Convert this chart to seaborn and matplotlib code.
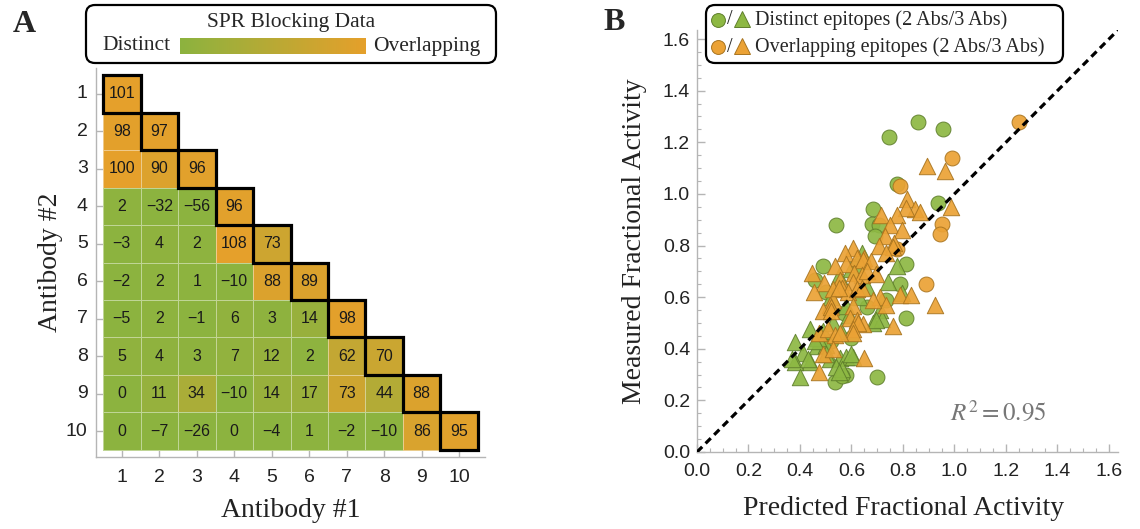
import numpy as np
import pandas as pd
import matplotlib
matplotlib.use("Agg")
import matplotlib.pyplot as plt
import seaborn as sns
from matplotlib.colors import LinearSegmentedColormap
from matplotlib.patches import Rectangle, FancyBboxPatch
from matplotlib.ticker import MultipleLocator

# ---------------- data ----------------
antibodies = list(range(1, 11))
blocking_rows = [
    [101],
    [98, 97],
    [100, 90, 96],
    [2, -32, -56, 96],
    [-3, 4, 2, 108, 73],
    [-2, 2, 1, -10, 88, 89],
    [-5, 2, -1, 6, 3, 14, 98],
    [5, 4, 3, 7, 12, 2, 62, 70],
    [0, 11, 34, -10, 14, 17, 73, 44, 88],
    [0, -7, -26, 0, -4, 1, -2, -10, 86, 95],
]

# distinct epitopes, 2 Abs (circles)
dist2_pred = [0.86, 0.955, 0.745, 0.775, 0.935, 0.685, 0.68, 0.705, 0.54, 0.69, 0.81, 0.49, 0.46,
              0.79, 0.735, 0.81, 0.70, 0.58, 0.535, 0.565, 0.62, 0.57, 0.52, 0.60, 0.66, 0.50]
dist2_meas = [1.28, 1.25, 1.22, 1.04, 0.965, 0.94, 0.885, 0.88, 0.88, 0.835, 0.73, 0.72, 0.665,
              0.65, 0.59, 0.52, 0.29, 0.30, 0.27, 0.295, 0.72, 0.54, 0.43, 0.44, 0.56, 0.62]
# distinct epitopes, 3 Abs (triangles)
dist3_pred = [0.775, 0.71, 0.58, 0.685, 0.72, 0.44, 0.38, 0.41, 0.44, 0.38, 0.40, 0.465, 0.50,
              0.515, 0.555, 0.58, 0.605, 0.54, 0.565, 0.55, 0.60, 0.37, 0.43, 0.795, 0.695, 0.47,
              0.49, 0.53, 0.56, 0.59, 0.63, 0.66, 0.52, 0.55, 0.60, 0.64, 0.74, 0.50, 0.46]
dist3_meas = [0.72, 0.55, 0.565, 0.50, 0.515, 0.475, 0.425, 0.385, 0.35, 0.35, 0.29, 0.41, 0.415,
              0.36, 0.365, 0.37, 0.37, 0.33, 0.32, 0.31, 0.38, 0.36, 0.36, 0.615, 0.51, 0.44,
              0.47, 0.50, 0.47, 0.53, 0.60, 0.64, 0.60, 0.68, 0.71, 0.77, 0.66, 0.38, 0.43]
# overlapping epitopes, 2 Abs (circles)
ovl2_pred = [1.25, 0.99, 0.79, 0.95, 0.945, 0.775, 0.89]
ovl2_meas = [1.28, 1.14, 1.03, 0.885, 0.845, 0.785, 0.65]
# overlapping epitopes, 3 Abs (triangles)
ovl3_pred = [0.895, 0.965, 0.815, 0.985, 0.845, 0.865, 0.81, 0.715, 0.775, 0.75, 0.795, 0.73,
             0.765, 0.705, 0.605, 0.575, 0.76, 0.735, 0.65, 0.62, 0.645, 0.675, 0.58, 0.535,
             0.445, 0.61, 0.64, 0.66, 0.695, 0.555, 0.605, 0.495, 0.79, 0.83, 0.925, 0.455,
             0.565, 0.585, 0.62, 0.64, 0.53, 0.71, 0.735, 0.685, 0.76, 0.53, 0.515, 0.49,
             0.605, 0.52, 0.595, 0.62, 0.645, 0.625, 0.605, 0.605, 0.475, 0.51, 0.535, 0.555,
             0.49, 0.53, 0.65, 0.475, 0.52, 0.55]
ovl3_meas = [1.11, 1.09, 0.98, 0.95, 0.94, 0.93, 0.945, 0.92, 0.92, 0.88, 0.86, 0.835,
             0.81, 0.80, 0.79, 0.77, 0.795, 0.77, 0.75, 0.75, 0.745, 0.74, 0.73, 0.72,
             0.695, 0.695, 0.685, 0.70, 0.69, 0.665, 0.66, 0.655, 0.61, 0.61, 0.57, 0.62,
             0.635, 0.62, 0.63, 0.635, 0.63, 0.60, 0.57, 0.59, 0.49, 0.59, 0.57, 0.545,
             0.565, 0.56, 0.52, 0.51, 0.495, 0.50, 0.475, 0.46, 0.46, 0.475, 0.455, 0.46,
             0.38, 0.40, 0.365, 0.31, 0.545, 0.635]
r_squared = 0.95

# ---------------- style ----------------
GREEN = "#8CB33F"
ORANGE = "#E5A02B"
SC_GREEN = "#8DB843"
SC_ORANGE = "#EBA235"
EDGE_GREEN = "#5F7F2C"
EDGE_ORANGE = "#A8741F"
AXIS_GREY = "#B5B5B5"

sns.set_theme(style="white")
plt.rcParams['font.family'] = ['Liberation Sans', 'DejaVu Sans']
plt.rcParams['mathtext.fontset'] = 'stix'
SERIF = ['Liberation Serif', 'DejaVu Serif']

W, H = 1140, 529
fig = plt.figure(figsize=(W / 100, H / 100), dpi=100)


def fr(x0, y0, x1, y1):
    return [x0 / W, 1 - y1 / H, (x1 - x0) / W, (y1 - y0) / H]


cmap = LinearSegmentedColormap.from_list("spr", [GREEN, ORANGE])

# ---------------- Panel A: heatmap ----------------
axA = fig.add_axes(fr(96, 68, 485, 457))
n = len(antibodies)
mat = np.full((n, n), np.nan)
for i, row in enumerate(blocking_rows):
    mat[i, :len(row)] = row
mask = np.isnan(mat)
annot = np.array([["" if np.isnan(v) else f"{int(v)}".replace("-", "\u2212") for v in r] for r in mat])
df = pd.DataFrame(mat, index=antibodies, columns=antibodies)
sns.heatmap(df, mask=mask, cmap=cmap, vmin=0, vmax=100, annot=annot, fmt="",
            annot_kws=dict(size=11.5, color="#1a1a1a"), linewidths=0.7,
            linecolor=(1, 1, 1, 0.45), cbar=False, ax=axA)
for i in range(n):
    axA.add_patch(Rectangle((i, i), 1, 1, fill=False, ec="black", lw=2.3, zorder=4,
                            clip_on=False))
pad = 0.187
axA.set_xlim(-pad, n + pad)
axA.set_ylim(n + pad, -pad)
for s in ["left", "bottom"]:
    axA.spines[s].set_visible(True)
    axA.spines[s].set_color(AXIS_GREY)
    axA.spines[s].set_linewidth(1.0)
for s in ["top", "right"]:
    axA.spines[s].set_visible(False)
axA.tick_params(direction="in", length=5, width=1, color=AXIS_GREY, left=True, bottom=True,
                labelsize=14, labelcolor="#222222")
axA.tick_params(axis="y", pad=6)
axA.tick_params(axis="x", pad=9)
plt.setp(axA.get_yticklabels(), rotation=0)
plt.setp(axA.get_xticklabels(), rotation=0)
axA.set_xlabel("Antibody #1", family=SERIF, size=20, color="#222222")
axA.set_ylabel("Antibody #2", family=SERIF, size=20, color="#222222")
axA.xaxis.set_label_coords(0.5, -0.105)
axA.yaxis.set_label_coords(-0.085, 0.5)

# ---------------- Panel B: scatter ----------------
axB = fig.add_axes(fr(697, 30, 1118, 452))
lim = 1.635
common = dict(linewidth=0.7, alpha=0.92, legend=False, ax=axB)
sns.scatterplot(x=dist2_pred, y=dist2_meas, marker="o", s=115, color=SC_GREEN, edgecolor=EDGE_GREEN, **common)
sns.scatterplot(x=ovl2_pred, y=ovl2_meas, marker="o", s=115, color=SC_ORANGE, edgecolor=EDGE_ORANGE, **common)
sns.scatterplot(x=dist3_pred, y=dist3_meas, marker="^", s=140, color=SC_GREEN, edgecolor=EDGE_GREEN, **common)
sns.scatterplot(x=ovl3_pred, y=ovl3_meas, marker="^", s=140, color=SC_ORANGE, edgecolor=EDGE_ORANGE, **common)
axB.plot([0, 1.7], [0, 1.7], color="black", lw=2.3, dashes=(2.3, 1.5), zorder=5)
axB.set_xlim(0, lim)
axB.set_ylim(0, lim)
axB.xaxis.set_major_locator(MultipleLocator(0.2))
axB.yaxis.set_major_locator(MultipleLocator(0.2))
axB.xaxis.set_minor_locator(MultipleLocator(0.05))
axB.yaxis.set_minor_locator(MultipleLocator(0.05))
axB.xaxis.set_major_formatter(plt.FormatStrFormatter("%.1f"))
axB.yaxis.set_major_formatter(plt.FormatStrFormatter("%.1f"))
for s in ["left", "bottom"]:
    axB.spines[s].set_color(AXIS_GREY)
    axB.spines[s].set_linewidth(1.0)
for s in ["top", "right"]:
    axB.spines[s].set_visible(False)
axB.tick_params(which="major", direction="in", length=6, width=1, color=AXIS_GREY,
                left=True, bottom=True, labelsize=14, labelcolor="#222222")
axB.tick_params(which="minor", direction="in", length=3, width=0.8, color=AXIS_GREY,
                left=True, bottom=True)
axB.tick_params(axis="x", which="major", pad=8)
axB.tick_params(axis="y", which="major", pad=5)
axB.set_xlabel("Predicted Fractional Activity", family=SERIF, size=20, color="#222222")
axB.set_ylabel("Measured Fractional Activity", family=SERIF, size=20, color="#222222")
axB.xaxis.set_label_coords(0.49, -0.105)
axB.yaxis.set_label_coords(-0.118, 0.5)
axB.text(1.17, 0.155, rf"$R^2 = {r_squared:.2f}$", color="#777777", size=18,
         ha="center", va="center")

# ---------------- overlay: panel letters & legends ----------------
ov = fig.add_axes([0, 0, 1, 1], zorder=10)
ov.set_xlim(0, W)
ov.set_ylim(H, 0)
ov.axis("off")
ov.patch.set_alpha(0)

ov.text(24, 24, "A", family=SERIF, weight="bold", size=23, ha="center", va="center")
ov.text(614, 23, "B", family=SERIF, weight="bold", size=23, ha="center", va="center")

# legend A
ov.add_patch(FancyBboxPatch((86, 5), 410, 58, boxstyle="round,pad=0,rounding_size=9",
                            fc="white", ec="black", lw=1.6))
ov.text(291, 22, "SPR Blocking Data", family=SERIF, size=15.5, ha="center", va="center")
ov.text(171, 46, "Distinct", family=SERIF, size=15.5, ha="right", va="center")
ov.text(373, 46, "Overlapping", family=SERIF, size=15.5, ha="left", va="center")
cb = fig.add_axes(fr(180, 38, 366, 54), zorder=11)
cb.imshow(np.linspace(0, 1, 256)[None, :], cmap=cmap, aspect="auto")
cb.axis("off")

# legend B
ov.add_patch(FancyBboxPatch((706, 5), 357, 58, boxstyle="round,pad=0,rounding_size=9",
                            fc="white", ec="black", lw=1.6))
leg_rows = [("Distinct epitopes (2 Abs/3 Abs)", SC_GREEN, EDGE_GREEN, 20),
            ("Overlapping epitopes (2 Abs/3 Abs)", SC_ORANGE, EDGE_ORANGE, 47)]
for label, fc, ec, yy in leg_rows:
    ov.plot([718], [yy], marker="o", ms=10, mfc=fc, mec=ec, mew=0.7, ls="none")
    ov.text(730, yy, "/", family=SERIF, size=14.5, ha="center", va="center")
    ov.plot([742], [yy - 1], marker="^", ms=11, mfc=fc, mec=ec, mew=0.7, ls="none")
    ov.text(755, yy, label, family=SERIF, size=14.5, ha="left", va="center")

fig.savefig("out.png", dpi=100)
